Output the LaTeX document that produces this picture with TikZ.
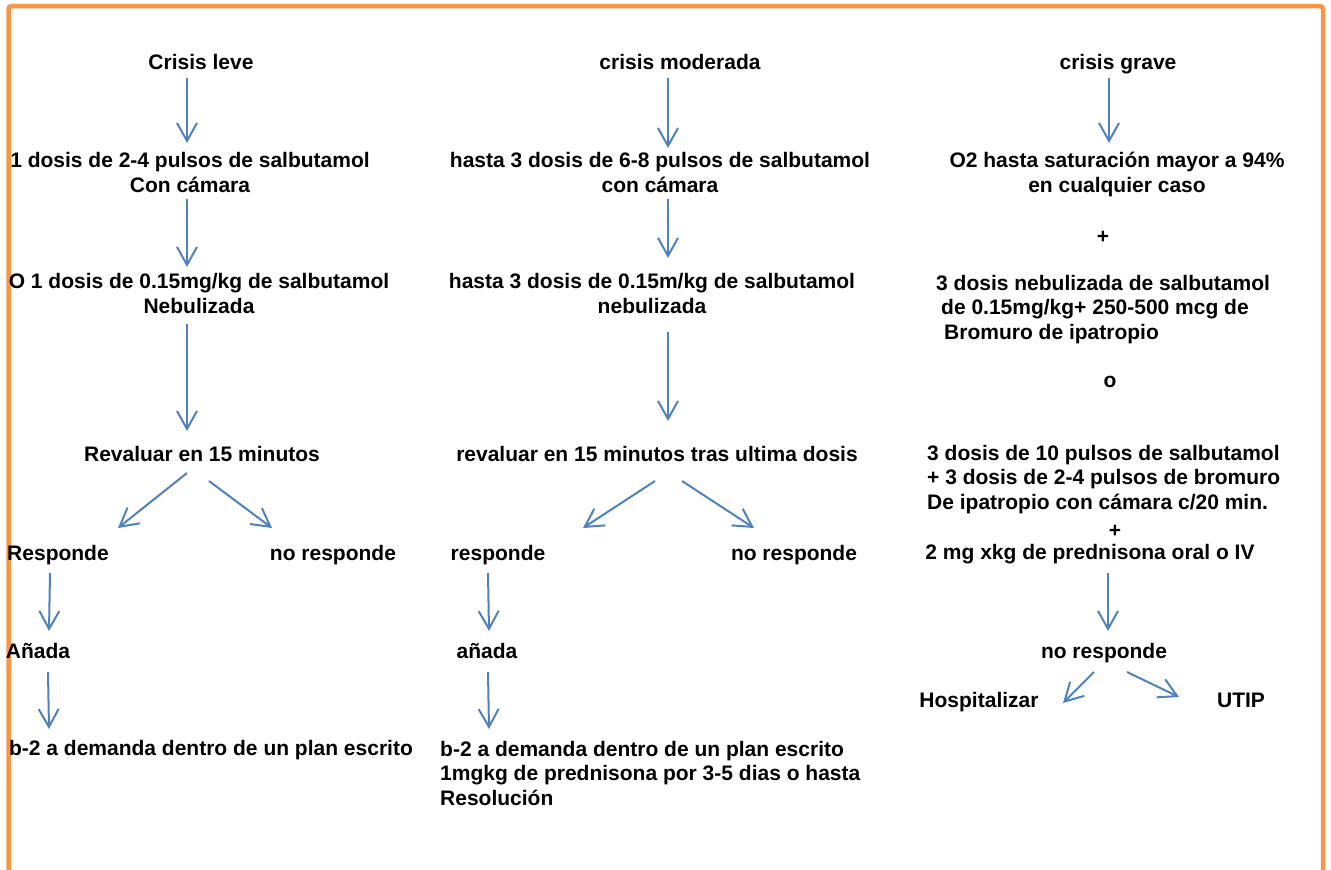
\documentclass[tikz,border=0pt]{standalone}
\usepackage{fontspec}
\setmainfont{Liberation Sans}
\usetikzlibrary{arrows.meta}

\definecolor{marco}{HTML}{F79646}
\definecolor{flecha}{HTML}{4F81BD}

\begin{document}
\begin{tikzpicture}
  [x=1pt,y=-1pt,
   every node/.style={font=\bfseries\fontsize{21}{24.5}\selectfont,inner sep=0pt,anchor=base},
   arr/.style={draw=flecha,line width=2pt,-{Straight Barb[length=18pt,width=20pt]}}]
  \useasboundingbox (0,0) rectangle (1331,870);
  \draw[marco,line width=4.5pt,rounded corners=3pt] (8.5,900) -- (8.5,6) -- (1323,6) -- (1323,900);

  % crisis leve
  \node (lv) at (201,69) {Crisis leve};
  \node[align=center] (l1) at (190,192) {1 dosis de 2-4 pulsos de salbutamol\\Con cámara};
  \node[align=center] (l2) at (199,313) {O 1 dosis de 0.15mg/kg de salbutamol\\Nebulizada};
  \node (rv) at (202,461) {Revaluar en 15 minutos};
  \node (rs) at (58,560) {Responde};
  \node (nr1) at (333,560) {no responde};
  \node (an) at (38,658) {Añada};
  \node (b1) at (211,755) {b-2 a demanda dentro de un plan escrito};

  % crisis moderada
  \node (md) at (680,69) {crisis moderada};
  \node[align=center] (m1) at (660,192) {hasta 3 dosis de 6-8 pulsos de salbutamol\\con cámara};
  \node[align=center] (m2) at (652,313) {hasta 3 dosis de 0.15m/kg de salbutamol\\nebulizada};
  \node (mr) at (657,461) {revaluar en 15 minutos tras ultima dosis};
  \node (mrs) at (498,560) {responde};
  \node (mnr) at (794,560) {no responde};
  \node (man) at (487,658) {añada};
  \node[align=left,anchor=base west] (mb) at (440,805) {b-2 a demanda dentro de un plan escrito\\1mgkg de prednisona por 3-5 dias o hasta\\Resolución};

  % crisis grave
  \node (gv) at (1118,69) {crisis grave};
  \node[align=center] (g1) at (1117,192) {O2 hasta saturación mayor a 94\%\\en cualquier caso};
  \node (gp1) at (1103,243) {+};
  \node[align=left,anchor=base west] (g2) at (936,339) {3 dosis nebulizada de salbutamol\\\hspace*{5pt}de 0.15mg/kg+ 250-500 mcg de\\\hspace*{8pt}Bromuro de ipatropio};
  \node (go) at (1110,387) {o};
  \node[align=left,anchor=base west] (g3) at (927,509) {3 dosis de 10 pulsos de salbutamol\\+ 3 dosis de 2-4 pulsos de bromuro\\De ipatropio con cámara c/20 min.};
  \node (gp2) at (1115,537) {+};
  \node (g4) at (1090,559) {2 mg xkg de prednisona oral o IV};
  \node (gnr) at (1104,658) {no responde};
  \node (gh) at (979,707) {Hospitalizar};
  \node (gu) at (1241,707) {UTIP};

  \draw[arr] ([shift={(-14,9)}]lv.base) -- ([shift={(-3,-49)}]l1.base);
  \draw[arr] ([shift={(-3,7)}]l1.base) -- ([shift={(-12,-46)}]l2.base);
  \draw[arr] ([shift={(-12,11)}]l2.base) -- ([shift={(-15,-30)}]rv.base);
  \draw[arr] ([shift={(-15,12)}]rv.base) -- ([shift={(60,-32)}]rs.base);
  \draw[arr] ([shift={(7,20)}]rv.base) -- ([shift={(-61,-32)}]nr1.base);
  \draw[arr] ([shift={(-8,13)}]rs.base) -- ([shift={(11,-27)}]an.base);
  \draw[arr] ([shift={(10,14)}]an.base) -- ([shift={(-162,-26)}]b1.base);

  \draw[arr] ([shift={(-12,9)}]md.base) -- ([shift={(8,-44)}]m1.base);
  \draw[arr] ([shift={(8,7)}]m1.base) -- ([shift={(16,-55)}]m2.base);
  \draw[arr] ([shift={(16,19)}]m2.base) -- ([shift={(11,-40)}]mr.base);
  \draw[arr] ([shift={(-2,20)}]mr.base) -- ([shift={(85,-32)}]mrs.base);
  \draw[arr] ([shift={(25,20)}]mr.base) -- ([shift={(-40,-32)}]mnr.base);
  \draw[arr] ([shift={(-10,13)}]mrs.base) -- ([shift={(2,-27)}]man.base);
  \draw[arr] ([shift={(1,14)}]man.base) -- ([shift={(49,-76)}]mb.base west);

  \draw[arr] ([shift={(-9,9)}]gv.base) -- ([shift={(-8,-49)}]g1.base);
  \draw[arr] ([shift={(18,14)}]g4.base) -- ([shift={(4,-27)}]gnr.base);
  \draw[arr] ([shift={(-10,14)}]gnr.base) -- ([shift={(84,-4)}]gh.base);
  \draw[arr] ([shift={(23,14)}]gnr.base) -- ([shift={(-62,-10)}]gu.base);
\end{tikzpicture}
\end{document}
